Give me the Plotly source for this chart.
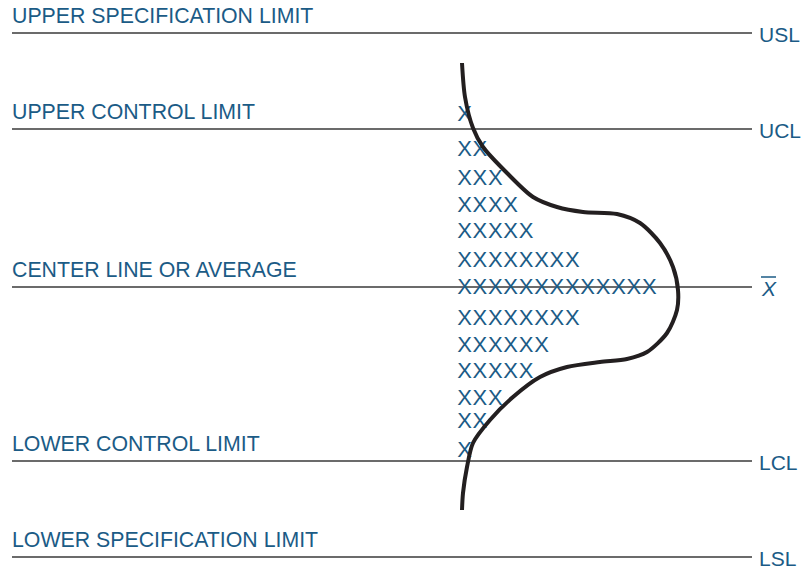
import plotly.graph_objects as go

# Horizontal reference levels (vertical position on the sheet, top = 0)
level_names = ["UPPER SPECIFICATION LIMIT", "UPPER CONTROL LIMIT", "CENTER LINE OR AVERAGE",
               "LOWER CONTROL LIMIT", "LOWER SPECIFICATION LIMIT"]
level_tags = ["USL", "UCL", "", "LCL", "LSL"]
level_pos = [33, 129, 287, 461, 557]

# Tally of readings per row
row_pos = [115, 150, 179, 206, 232, 261, 288, 319, 346, 372, 399, 422, 451]
row_counts = [1, 2, 3, 4, 5, 8, 13, 8, 6, 5, 3, 2, 1]

# Distribution outline sketched over the tally
curve_x = [462, 465, 473, 483, 507, 533, 557, 583, 617, 640, 660, 673, 678,
           677, 667, 647, 627, 600, 567, 540, 513, 490, 473, 467, 463, 462]
curve_y = [63, 97, 128, 147, 173, 197, 207, 212, 214, 223, 243, 267, 290,
           310, 333, 352, 359, 362, 367, 377, 397, 420, 443, 467, 493, 510]

TEXT_BLUE = "#1b5b86"
FONT = "Liberation Sans, Arial, sans-serif"
line_x0, line_x1 = 12, 752
tally_x0, tally_step = 464.5, 15.4

fig = go.Figure()

# Tally marks, one "X" per reading
xs, ys = [], []
for y, n in zip(row_pos, row_counts):
    for i in range(n):
        xs.append(tally_x0 + i * tally_step)
        ys.append(y)
fig.add_trace(go.Scatter(x=xs, y=ys, mode="text", text=["X"] * len(xs),
                         textfont=dict(family=FONT, size=22, color=TEXT_BLUE),
                         textposition="middle center", hoverinfo="skip", showlegend=False))

# Distribution curve
fig.add_trace(go.Scatter(x=curve_x, y=curve_y, mode="lines",
                         line=dict(color="#231f20", width=4, shape="spline", smoothing=0.8),
                         hoverinfo="skip", showlegend=False))

shapes = []
annotations = []
for name, tag, y in zip(level_names, level_tags, level_pos):
    shapes.append(dict(type="line", x0=line_x0, x1=line_x1, y0=y, y1=y,
                       line=dict(color="#3a3a3a", width=1.3), layer="below"))
    annotations.append(dict(x=line_x0, y=y - 17, text=name, showarrow=False,
                            xanchor="left", yanchor="middle", xshift=-2,
                            font=dict(family=FONT, size=21.3, color=TEXT_BLUE)))
    if tag:
        annotations.append(dict(x=759, y=y + 1, text=tag, showarrow=False,
                                xanchor="left", yanchor="middle", xshift=-2,
                                font=dict(family=FONT, size=21, color=TEXT_BLUE)))

# X-bar symbol for the center line
cl = level_pos[2]
annotations.append(dict(x=759, y=cl + 1, text="<i>X</i>", showarrow=False,
                        xanchor="left", yanchor="middle",
                        font=dict(family=FONT, size=21, color=TEXT_BLUE)))
shapes.append(dict(type="line", x0=761, x1=776, y0=cl - 10, y1=cl - 10,
                   line=dict(color=TEXT_BLUE, width=1.5)))

fig.update_layout(
    width=806, height=571,
    margin=dict(l=0, r=0, t=0, b=0),
    paper_bgcolor="white", plot_bgcolor="white",
    xaxis=dict(range=[0, 806], visible=False, fixedrange=True),
    yaxis=dict(range=[571, 0], visible=False, fixedrange=True),
    shapes=shapes, annotations=annotations,
)

fig.write_html("out.html")
